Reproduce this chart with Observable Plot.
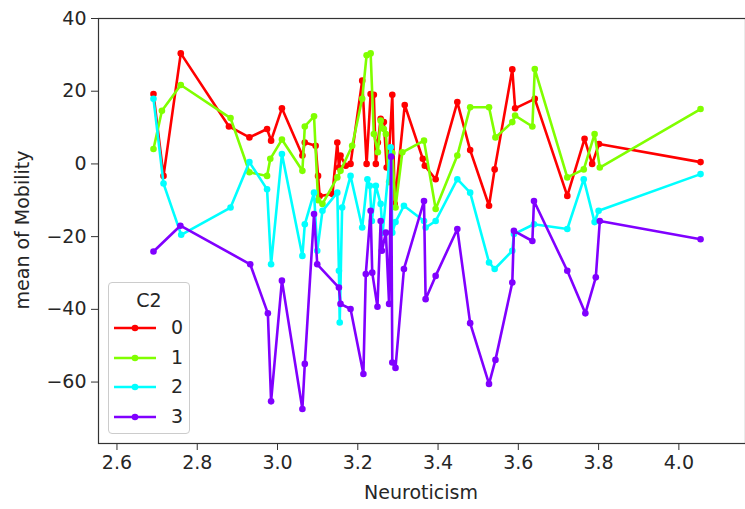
<!DOCTYPE html>
<html><head><meta charset="utf-8">
<script src="https://cdn.jsdelivr.net/npm/d3@7"></script>
<script src="https://cdn.jsdelivr.net/npm/@observablehq/plot@0.6"></script>
<style>
body{margin:0;background:#fff;}
#wrap{position:relative;width:745px;height:509px;font-family:"DejaVu Sans",sans-serif;color:#262626;}
.lbl{position:absolute;font-size:19px;white-space:nowrap;}
.legend{position:absolute;left:108px;top:282px;width:82px;height:152px;border:1px solid #cccccc;border-radius:4px;background:rgba(255,255,255,0.8);box-sizing:border-box;}
.legend .t{position:absolute;left:0;width:100%;text-align:center;top:6px;font-size:19px;}
.legend .row{position:absolute;left:0;height:20px;width:100%;}
.legend .row svg{position:absolute;left:4px;top:0;}
.legend .row span{position:absolute;left:62px;top:-2px;font-size:19px;}
</style></head><body><div id="wrap"></div>
<script>
const groups = ["0", "1", "2", "3"];
const colors = ["#ff0000", "#80ff00", "#00ffff", "#8000ff"];
const xTicks = [2.6, 2.8, 3.0, 3.2, 3.4, 3.6, 3.8, 4.0];
const yTicks = [-60, -40, -20, 0, 20, 40];

const c0x = [2.691, 2.716, 2.759, 2.879, 2.930, 2.974, 2.984, 3.011, 3.062, 3.068, 3.095, 3.101, 3.105, 3.137, 3.149, 3.153, 3.157, 3.170, 3.182, 3.211, 3.222, 3.232, 3.240, 3.245, 3.250, 3.257, 3.265, 3.272, 3.278, 3.286, 3.292, 3.317, 3.362, 3.367, 3.394, 3.448, 3.480, 3.527, 3.541, 3.585, 3.592, 3.641, 3.722, 3.765, 3.784, 3.801, 4.054];
const c0y = [19.2, -3.3, 30.4, 10.3, 7.3, 9.6, 6.4, 15.3, 2.3, 5.9, 5.0, -3.3, -8.8, -8.3, 5.9, -1.0, 2.3, -0.5, 0.0, 22.9, 0.0, 19.2, 19.0, 0.0, 5.9, 12.4, 11.5, -1.0, 3.0, 19.0, -11.0, 16.2, 1.4, -0.5, -4.2, 17.0, 3.8, -11.5, -1.5, 26.0, 15.3, 17.9, -8.8, 6.9, 0.0, 5.5, 0.5];

const c1x = [2.691, 2.712, 2.759, 2.883, 2.930, 2.974, 2.982, 3.011, 3.062, 3.068, 3.091, 3.101, 3.112, 3.149, 3.157, 3.186, 3.211, 3.222, 3.232, 3.240, 3.250, 3.257, 3.265, 3.270, 3.278, 3.286, 3.294, 3.311, 3.365, 3.394, 3.448, 3.480, 3.527, 3.543, 3.585, 3.592, 3.635, 3.641, 3.722, 3.763, 3.790, 3.803, 4.054];
const c1y = [4.1, 14.6, 21.7, 12.6, -2.3, -3.3, 1.4, 6.7, -1.9, 10.3, 13.1, -10.0, -11.0, -3.7, -1.9, 5.0, 17.9, 29.9, 30.4, 8.2, 3.2, 11.9, 9.6, 8.2, -5.0, 3.0, -12.0, 3.2, 6.4, -12.4, 2.3, 15.6, 15.6, 7.3, 11.5, 13.3, 10.3, 26.1, -3.7, -1.5, 8.2, -1.0, 15.1];

const c2x = [2.691, 2.716, 2.760, 2.883, 2.930, 2.974, 2.984, 3.011, 3.062, 3.068, 3.091, 3.099, 3.112, 3.149, 3.153, 3.155, 3.161, 3.182, 3.211, 3.224, 3.230, 3.235, 3.245, 3.257, 3.262, 3.282, 3.286, 3.294, 3.315, 3.365, 3.369, 3.394, 3.448, 3.480, 3.527, 3.541, 3.585, 3.589, 3.639, 3.722, 3.763, 3.790, 3.800, 4.054];
const c2y = [17.9, -5.4, -19.5, -12.0, 0.5, -7.0, -27.6, 2.7, -25.3, -16.6, -7.9, -23.9, -12.9, -7.9, -29.4, -43.6, -12.0, -3.3, -17.5, -4.2, -6.0, -15.7, -6.0, -11.0, -18.9, 4.6, -18.9, -16.0, -11.5, -15.7, -17.5, -15.7, -4.2, -7.9, -27.1, -28.9, -23.9, -19.3, -16.6, -17.9, -4.2, -16.0, -12.9, -2.8];

const c3x = [2.691, 2.758, 2.932, 2.976, 2.984, 3.011, 3.062, 3.068, 3.091, 3.099, 3.153, 3.157, 3.182, 3.214, 3.220, 3.232, 3.236, 3.249, 3.257, 3.260, 3.270, 3.278, 3.283, 3.286, 3.294, 3.315, 3.365, 3.369, 3.394, 3.448, 3.480, 3.527, 3.543, 3.585, 3.589, 3.635, 3.639, 3.722, 3.767, 3.793, 3.803, 4.054];
const c3y = [-24.1, -17.0, -27.6, -41.1, -65.3, -32.1, -67.4, -55.0, -13.8, -27.6, -34.0, -38.5, -39.9, -57.8, -30.3, -12.9, -29.9, -39.3, -15.7, -23.9, -18.9, -38.5, 2.0, -54.6, -56.1, -28.9, -10.2, -37.2, -30.8, -17.9, -43.8, -60.5, -53.9, -32.6, -18.4, -21.2, -10.2, -29.4, -41.1, -31.2, -15.7, -20.7];

const seriesX = [c0x, c1x, c2x, c3x];
const seriesY = [c0y, c1y, c2y, c3y];
const tables = groups.map((g, i) => seriesX[i].map((x, j) => ({g, x, y: seriesY[i][j]})));

const xDomain = [2.554, 4.166];
const yDomain = [-76.9, 40];

const chart = Plot.plot({
  width: 745, height: 509,
  marginTop: 18, marginBottom: 66, marginLeft: 98, marginRight: 0,
  style: {fontFamily: "DejaVu Sans", fontSize: "19px", color: "#262626", background: "#fff", overflow: "visible"},
  x: {domain: xDomain},
  y: {domain: yDomain},
  color: {domain: groups, range: colors},
  marks: [
    Plot.axisX({ticks: xTicks, tickFormat: d3.format(".1f"), tickSize: 7, tickPadding: 5, label: null, stroke: "#333", fill: "#262626", fontSize: 19}),
    Plot.axisY({ticks: yTicks, tickSize: 7, tickPadding: 5, label: null, stroke: "#333", fill: "#262626", fontSize: 19}),
    ...tables.flatMap((t) => [
      Plot.line(t, {x: "x", y: "y", stroke: "g", strokeWidth: 2.6}),
      Plot.dot(t, {x: "x", y: "y", fill: "g", r: 3.3, stroke: "none"})
    ]),
    Plot.frame({stroke: "#333", strokeWidth: 1.2})
  ]
});

const wrap = document.getElementById("wrap");
wrap.appendChild(chart);

const xl = document.createElement("div");
xl.className = "lbl"; xl.textContent = "Neuroticism";
xl.style.left = "421px"; xl.style.top = "481px"; xl.style.transform = "translateX(-50%)";
wrap.appendChild(xl);

const yl = document.createElement("div");
yl.className = "lbl"; yl.textContent = "mean of Mobility";
yl.style.left = "22px"; yl.style.top = "230px"; yl.style.transform = "translate(-50%,-50%) rotate(-90deg)";
wrap.appendChild(yl);

const lg = document.createElement("div");
lg.className = "legend";
const t = document.createElement("div"); t.className = "t"; t.textContent = "C2"; lg.appendChild(t);
groups.forEach((g, i) => {
  const row = document.createElement("div"); row.className = "row";
  row.style.top = (35 + i * 29.6) + "px";
  row.innerHTML = `<svg width="44" height="20"><line x1="1" y1="10" x2="43" y2="10" stroke="${colors[i]}" stroke-width="2.6"/><circle cx="22" cy="10" r="3.3" fill="${colors[i]}"/></svg><span>${g}</span>`;
  lg.appendChild(row);
});
wrap.appendChild(lg);
</script></body></html>
